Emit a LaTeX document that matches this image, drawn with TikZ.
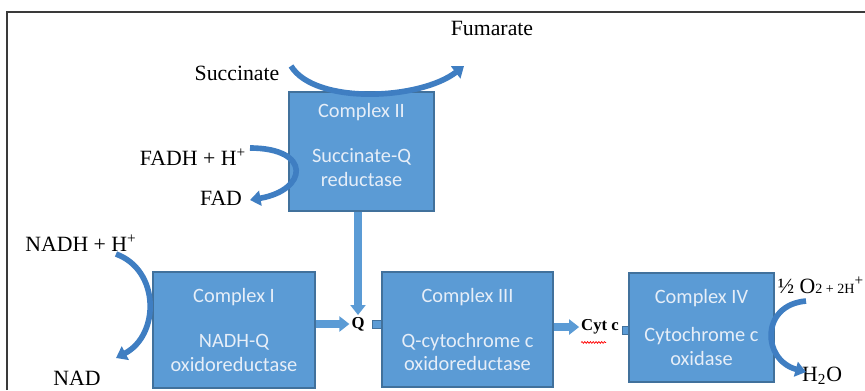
\documentclass[tikz,border=0pt]{standalone}
\usepackage{fontspec}
\setmainfont{Liberation Serif}
\newfontfamily\calibri{Carlito}
\usetikzlibrary{arrows.meta,positioning,decorations.pathmorphing}
\definecolor{cxFill}{HTML}{5B9BD5}
\definecolor{cxLine}{HTML}{41719C}
\definecolor{cxText}{HTML}{E6EEF8}
\definecolor{flowBlue}{HTML}{3F7EC2}
\definecolor{frameGray}{HTML}{3A3A3A}

\begin{document}
\begin{tikzpicture}[x=0.02cm, y=-0.02cm,
  complex/.style={rectangle, draw=cxLine, fill=cxFill, line width=0.6pt, text=cxText, inner sep=0pt, align=center, font=\calibri\fontsize{11.6}{13.6}\selectfont},
  chem/.style={inner sep=1pt, font=\fontsize{12.4}{14}\selectfont},
  carrier/.style={inner sep=1pt, font=\bfseries\fontsize{9.5}{11}\selectfont},
  stub/.style={rectangle, draw=cxLine, fill=cxFill, line width=0.4pt, inner sep=0pt, minimum height=0.16cm},
  flow/.style={-{Triangle[width=8.5pt,length=5.7pt]}, line width=4pt, draw=cxFill},
  swirl/.style={-{Triangle[width=8.5pt,length=6pt]}, line width=3.2pt, draw=flowBlue}
]
\useasboundingbox (0,0) rectangle (865,390);
\draw[frameGray, line width=0.7pt] (7,390) -- (7,12) -- (865,12);
\node[complex, minimum width=2.9cm, minimum height=2.38cm] (c2) at (361.5,151.5) {Complex II\\[12pt]Succinate-Q\\reductase\\[-6pt]};
\node[complex, minimum width=3.24cm, minimum height=2.32cm] (c1) at (234,330) {Complex I\\[12pt]NADH-Q\\oxidoreductase};
\node[complex, minimum width=3.42cm, minimum height=2.3cm] (c3) at (467.5,329.5) {Complex III\\[12pt]Q-cytochrome c\\oxidoreductase};
\node[complex, minimum width=2.9cm, minimum height=2.18cm] (c4) at (701.5,327.5) {Complex IV\\[8pt]Cytochrome c\\oxidase};
\node[carrier] (q) at (358,324) {Q};
\node[carrier] (cyt) at (600,327) {Cyt c};
\node[stub, minimum width=0.18cm, anchor=east] (s3) at (c3.west |- q) {};
\node[stub, minimum width=0.12cm, anchor=east] (s4) at ([yshift=-2]c4.west |- cyt) {};
\draw[flow] (c2.south -| q) -- (q.north);
\draw[flow] (c1.east |- q) -- (q.west);
\draw[flow] (c3.east |- cyt) -- (cyt.west);
\draw[red, line width=0.4pt, decorate, decoration={snake, segment length=1.6pt, amplitude=0.5pt}] ([shift={(2,6)}]cyt.south west) -- ([shift={(27,6)}]cyt.south west);
\node[chem] (fum) at (492,28) {Fumarate};
\node[chem] (succ) at (237,73) {Succinate};
\node[chem] (fadh) at (193,157) {FADH + H\textsuperscript{+}};
\node[chem] (fad) at (221,198) {FAD};
\node[chem] (nadh) at (81,243) {NADH + H\textsuperscript{+}};
\node[chem] (nad) at (77,378) {NAD};
\node[chem] (oxy) at (821,285) {½ O{\fontsize{8}{9}\selectfont 2 + 2H}\textsuperscript{+}};
\node[chem] (water) at (822,376) {H\textsubscript{2}O};
\coordinate (sIn) at (291,66);
\coordinate (sOut) at (464,66);
\coordinate (fIn) at (250,148);
\coordinate (fOut) at (250,200);
\coordinate (nIn) at (116,254);
\coordinate (nOut) at (116,358);
\coordinate (oIn) at (806,301);
\coordinate (oOut) at (806,372);
\draw[swirl] (sIn) .. controls (315,105) and (420,100) .. (sOut);
\draw[swirl] (fIn) .. controls (312,148) and (308,190) .. (fOut);
\draw[swirl] (nIn) .. controls (160,270) and (160,335) .. (nOut);
\draw[swirl] (oIn) .. controls (760,305) and (762,360) .. (oOut);
\end{tikzpicture}
\end{document}
